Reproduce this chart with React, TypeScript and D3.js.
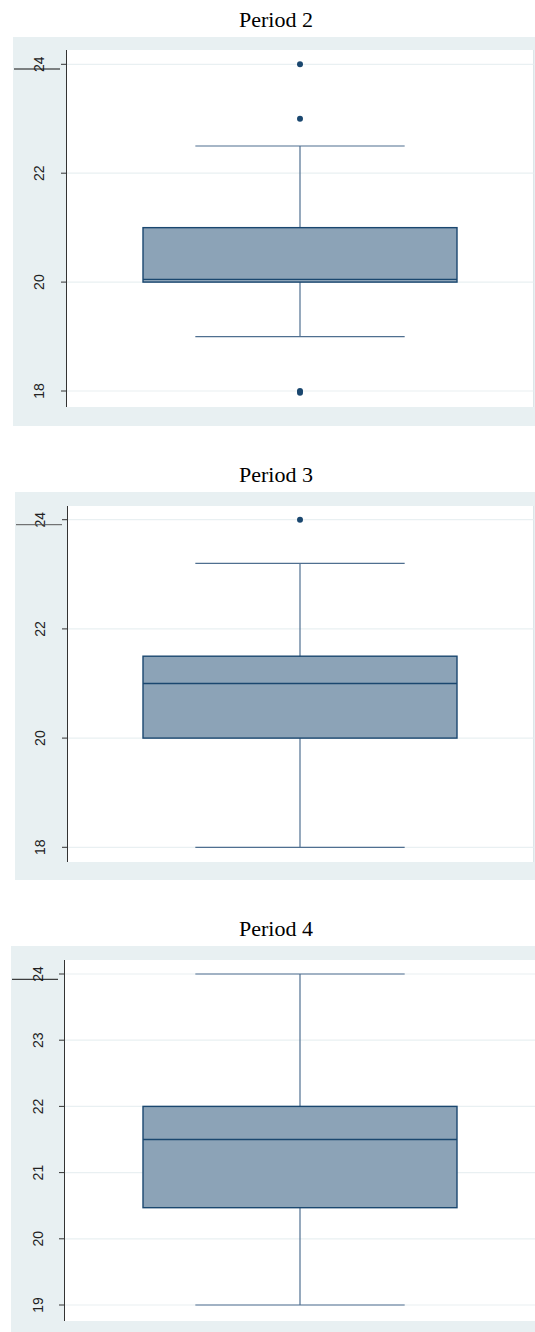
import React from "react";
import * as d3 from "d3";

// ---- data ----
const periods = ["Period 2", "Period 3", "Period 4"];
const q1 = [20, 20, 20.47];
const medians = [20.05, 21, 21.5];
const q3 = [21, 21.5, 22];
const whiskerLow = [19, 18, 19];
const whiskerHigh = [22.5, 23.2, 24];
const outliers: number[][] = [[24, 23, 18, 17.97], [24], []];
const tickValues: number[][] = [
  [18, 20, 22, 24],
  [18, 20, 22, 24],
  [19, 20, 21, 22, 23, 24],
];

// ---- layout (pixels) ----
const layouts = [
  { titleY: 27, bgX: 13, bgTop: 37, bgBottom: 426, plotTop: 50, plotBottom: 407, axisX: 66.5, plotRight: 533.5, lo: 18, loPx: 391, hi: 24, hiPx: 64.3, labelX: 44, strike: { x1: 14, x2: 60, y: 69, c: "#111" } },
  { titleY: 482, bgX: 15, bgTop: 492, bgBottom: 880, plotTop: 506, plotBottom: 862, axisX: 67.5, plotRight: 533.5, lo: 18, loPx: 847.3, hi: 24, hiPx: 519.7, labelX: 45, strike: { x1: 16, x2: 62, y: 524.7, c: "#555" } },
  { titleY: 936, bgX: 11, bgTop: 946, bgBottom: 1332, plotTop: 960, plotBottom: 1321, axisX: 64.5, plotRight: 535, lo: 19, loPx: 1305, hi: 24, hiPx: 974, labelX: 43, strike: { x1: 12, x2: 58, y: 979.3, c: "#111" } },
];

const BG = "#e8f0f2";
const GRID = "#e9f0f2";
const NAVY = "#1a476f";
const FILL = "#8ca3b7";
const WHISK = "#4f6f90";

function Panel({ i }: { i: number }) {
  const L = layouts[i];
  const y = d3.scaleLinear().domain([L.lo, L.hi]).range([L.loPx, L.hiPx]);
  const x = d3.scaleBand().domain([periods[i]]).range([143, 457]).padding(0);
  const bx = x(periods[i]) as number;
  const bw = x.bandwidth();
  const cx = bx + bw / 2;
  const capHalf = bw / 3;
  return (
    <g>
      <text x={276} y={L.titleY} textAnchor="middle" fontFamily="'Liberation Serif', 'Times New Roman', Times, serif" fontSize={22} fill="#000">
        {periods[i]}
      </text>
      <rect x={L.bgX} y={L.bgTop} width={535 - L.bgX} height={L.bgBottom - L.bgTop} fill={BG} />
      <rect x={L.axisX} y={L.plotTop} width={L.plotRight - L.axisX} height={L.plotBottom - L.plotTop} fill="#fff" />
      {L.plotRight < 535 && (
        <line x1={L.plotRight} x2={L.plotRight} y1={L.plotTop} y2={L.plotBottom} stroke="#dde5e8" strokeWidth={1} />
      )}
      {tickValues[i].map((t) => (
        <g key={t}>
          <line x1={L.axisX} x2={L.plotRight} y1={y(t)} y2={y(t)} stroke={GRID} strokeWidth={1.2} />
          <line x1={L.axisX - 5.5} x2={L.axisX} y1={y(t)} y2={y(t)} stroke="#333" strokeWidth={1} />
          <text
            transform={`translate(${L.labelX},${y(t)}) rotate(-90)`}
            textAnchor="middle"
            fontFamily="'Liberation Sans', Arial, sans-serif"
            fontSize={14}
            fill="#222"
          >
            {t}
          </text>
        </g>
      ))}
      <line x1={L.axisX} x2={L.axisX} y1={L.plotTop} y2={L.plotBottom} stroke="#333" strokeWidth={1} />
      <line x1={L.strike.x1} x2={L.strike.x2} y1={L.strike.y} y2={L.strike.y} stroke={L.strike.c} strokeWidth={1} />
      {/* whiskers */}
      <line x1={cx} x2={cx} y1={y(q3[i])} y2={y(whiskerHigh[i])} stroke={WHISK} strokeWidth={1.2} />
      <line x1={cx} x2={cx} y1={y(q1[i])} y2={y(whiskerLow[i])} stroke={WHISK} strokeWidth={1.2} />
      <line x1={cx - capHalf} x2={cx + capHalf} y1={y(whiskerHigh[i])} y2={y(whiskerHigh[i])} stroke={WHISK} strokeWidth={1.2} />
      <line x1={cx - capHalf} x2={cx + capHalf} y1={y(whiskerLow[i])} y2={y(whiskerLow[i])} stroke={WHISK} strokeWidth={1.2} />
      {/* box */}
      <rect x={bx} y={y(q3[i])} width={bw} height={y(q1[i]) - y(q3[i])} fill={FILL} stroke={NAVY} strokeWidth={1.4} />
      <line x1={bx} x2={bx + bw} y1={y(medians[i])} y2={y(medians[i])} stroke={NAVY} strokeWidth={1.4} />
      {outliers[i].map((o, k) => (
        <circle key={k} cx={cx} cy={y(o)} r={3} fill={NAVY} />
      ))}
    </g>
  );
}

export default function App() {
  return (
    <svg width={535} height={1332} style={{ position: "absolute", left: 0, top: 0, background: "#fff" }}>
      {periods.map((_, i) => (
        <Panel key={i} i={i} />
      ))}
    </svg>
  );
}
